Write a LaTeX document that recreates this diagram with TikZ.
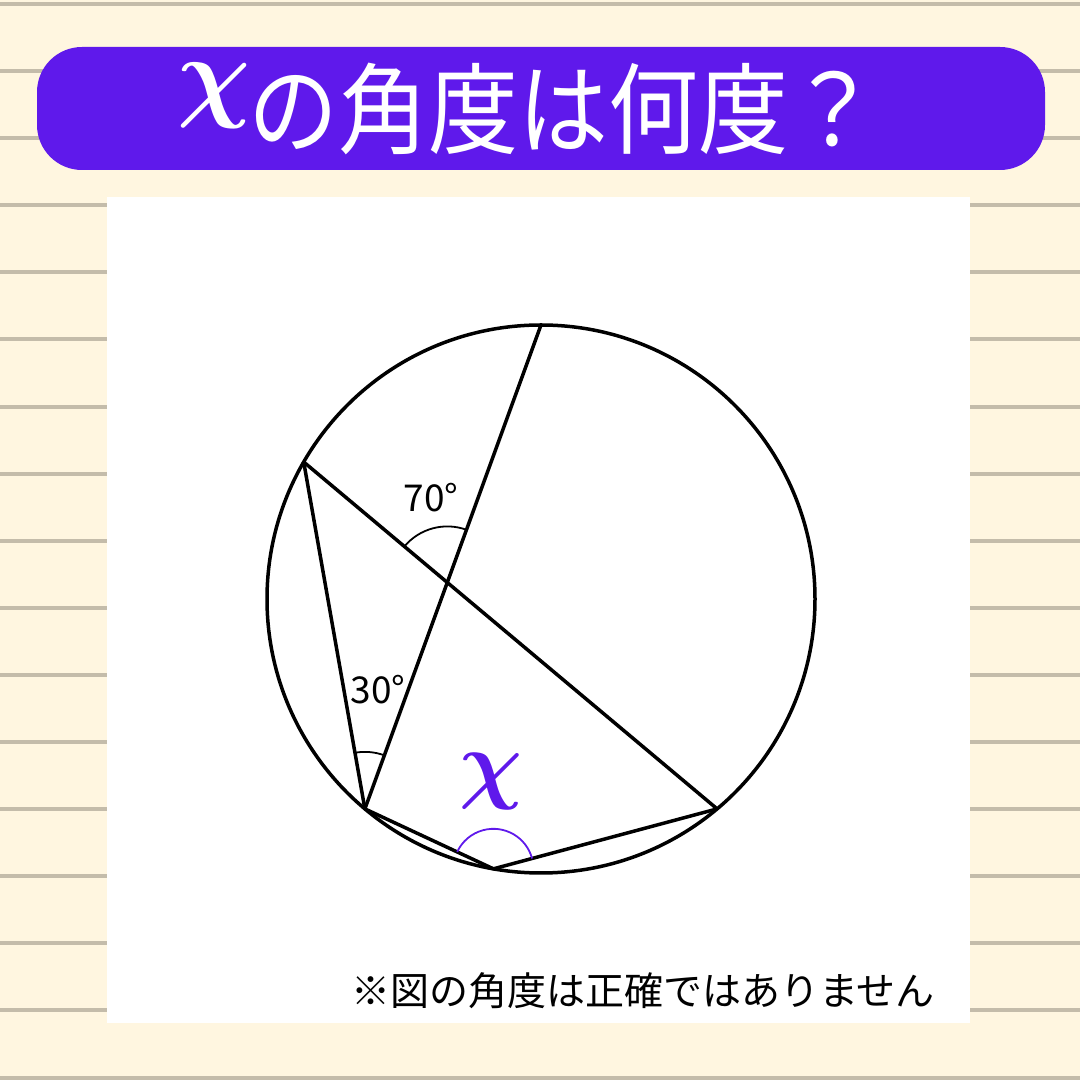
\documentclass[tikz,border=0pt]{standalone}
\usepackage{fix-cm}
\usepackage{fontspec}
\newfontfamily\jpfont{Noto Sans CJK JP}
\usetikzlibrary{calc}
\definecolor{paper}{RGB}{255,246,224}
\definecolor{ruleline}{RGB}{196,188,170}
\definecolor{quizpurple}{RGB}{95,25,235}
\tikzset{
  chord/.style={line width=3.5, line join=round},
  anglearc/.style={line width=1.8},
  deglabel/.style={font=\jpfont\fontsize{37}{37}\selectfont, inner sep=0pt}
}

\begin{document}
\begin{tikzpicture}[x=1pt,y=1pt]
			%%%%% START %%%%%
			\useasboundingbox (0,0) rectangle (1080,1080);
			\fill[paper] (0,0) rectangle (1080,1080);
			\foreach \k in {0,...,16}
				\fill[ruleline] (0,{1074-67.1*\k}) rectangle (1080,{1078-67.1*\k});
			
			% title bar
			\fill[quizpurple, rounded corners=45] (37,910) rectangle (1045,1033);
			\node[text=white, inner sep=0pt, font=\fontsize{102}{102}\selectfont\boldmath] (titlechi) at (214,984) {$\chi$};
			\node[text=white, inner sep=0pt, font=\jpfont\fontsize{90}{90}\selectfont] (title) at (563,971) {\scalebox{1}[1.1]{の角度は何度？}};
			
			% sheet
			\fill[white] (107,57) rectangle (970,883);
			
			\coordinate (O) at (541,481);
			\draw[line width=3.5] (O) circle (274);
			
			\coordinate (A) at ($(O)+(90:274)$);
			\coordinate (B) at ($(O)+(150:274)$);
			\coordinate (C) at ($(O)+(230:274)$);
			\coordinate (D) at ($(O)+(260:274)$);
			\coordinate (E) at ($(O)+(310:274)$);
			
			\draw[chord] (A) -- (C);
			\draw[chord] (B) -- (E);
			\draw[chord] (B) -- (C) -- (D) -- (E);
			
			\coordinate (P) at (intersection of A--C and B--E);
			\draw[anglearc] ($(P)+(70:56)$) arc (70:140:56);
			\draw[anglearc] ($(C)+(70:57)$) arc (70:100:57);
			\draw[anglearc, quizpurple] ($(D)+(15:40)$) arc (15:155:40);
			
			\node[deglabel] (ang70) at (431,582) {70°};
			\node[deglabel] (ang30) at (378,390) {30°};
			\node[text=quizpurple, inner sep=0pt, font=\fontsize{88}{88}\selectfont\boldmath] (xlabel) at (491,298) {$\chi$};
			
			\node[inner sep=0pt, font=\jpfont\fontsize{39}{39}\selectfont] (note) at (643,89) {※図の角度は正確ではありません};
			%%%%% END %%%%%
\end{tikzpicture}
\end{document}
